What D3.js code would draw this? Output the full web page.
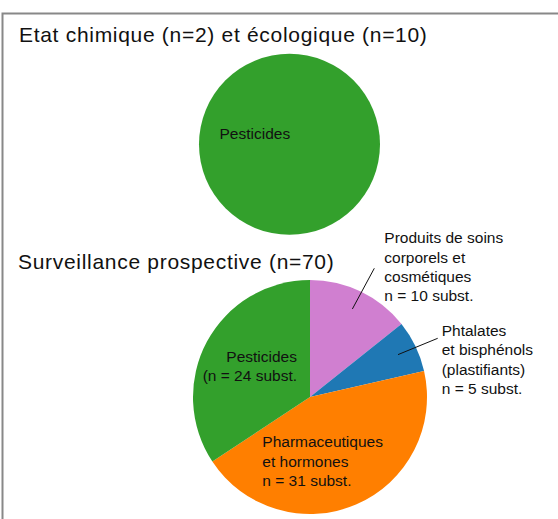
<!DOCTYPE html>
<html>
<head>
<meta charset="utf-8">
<script src="https://cdn.jsdelivr.net/npm/d3@7"></script>
<style>
  body { margin: 0; background: #fff; }
  svg text { font-family: "Liberation Sans", Arial, sans-serif; fill: #111; }
</style>
</head>
<body>
<div id="chart"></div>
<script>
// donnees
const titres = ['Etat chimique (n=2) et écologique (n=10)', 'Surveillance prospective (n=70)'];

const groupesHaut = ['Pesticides'];
const valeursHaut = [12];
const etiquettesHaut = [['Pesticides']];

const groupesBas = ['Produits de soins', 'Phtalates', 'Pharmaceutiques', 'Pesticides'];
const valeursBas = [10, 5, 31, 24];
const etiquettesBas = [
  ['Produits de soins', 'corporels et', 'cosmétiques', 'n = 10 subst.'],
  ['Phtalates', 'et bisphénols', '(plastifiants)', 'n = 5 subst.'],
  ['Pharmaceutiques', 'et hormones', 'n = 31 subst.'],
  ['Pesticides', '(n = 24 subst.']
];

const couleurs = d3.scaleOrdinal()
  .domain(['Produits de soins', 'Phtalates', 'Pharmaceutiques', 'Pesticides'])
  .range(['#d07fd0', '#1f78b4', '#ff7f00', '#33a02c']);

// mise en page
var width = 558, height = 519;
var lh = 19.4;

var svg = d3.select('#chart').append('svg')
  .attr('width', width)
  .attr('height', height);

// cadre (seulement haut et gauche visibles)
svg.append('path')
  .attr('d', 'M2.5,' + height + 'V13.5H' + width)
  .attr('fill', 'none')
  .attr('stroke', '#888')
  .attr('stroke-width', 2);

svg.append('text').attr('x', 19).attr('y', 41.5)
  .style('font-size', '21px').style('letter-spacing', '0.7px')
  .text(titres[0]);
svg.append('text').attr('x', 18).attr('y', 269.3)
  .style('font-size', '21px').style('letter-spacing', '0.7px')
  .text(titres[1]);

var pie = d3.pie().value(d => d.v).sort(null);

function drawPie(cx, cy, r, groupes, valeurs, etiquettes, pos, leaders) {
  var g = svg.append('g').attr('transform', 'translate(' + cx + ',' + cy + ')');
  var data = pie(groupes.map((k, i) => ({ k: k, v: valeurs[i], lab: etiquettes[i] })));
  var arc = d3.arc().innerRadius(0).outerRadius(r);
  var inner = d3.arc().innerRadius(r * 0.835).outerRadius(r * 0.835);

  g.selectAll('path.slice')
    .data(data)
    .enter().append('path')
    .attr('class', 'slice')
    .attr('d', arc)
    .attr('fill', d => couleurs(d.data.k));

  // lignes de rappel
  g.selectAll('line.lead')
    .data(data.filter((d, i) => leaders[i]))
    .enter().append('line')
    .attr('class', 'lead')
    .attr('x1', d => inner.centroid(d)[0])
    .attr('y1', d => inner.centroid(d)[1])
    .attr('x2', d => leaders[data.indexOf(d)][0])
    .attr('y2', d => leaders[data.indexOf(d)][1])
    .attr('stroke', '#111')
    .attr('stroke-width', 1);

  var t = g.selectAll('text.lab')
    .data(data)
    .enter().append('text')
    .attr('class', 'lab')
    .style('font-size', '15.5px')
    .attr('text-anchor', (d, i) => pos[i][2])
    .attr('transform', (d, i) => 'translate(' + pos[i][0] + ',' + pos[i][1] + ')');

  t.selectAll('tspan')
    .data(d => d.data.lab)
    .enter().append('tspan')
    .attr('x', 0)
    .attr('y', (d, i) => i * lh)
    .text(d => d);
}

drawPie(289.5, 144.3, 90.5, groupesHaut, valeursHaut, etiquettesHaut,
  [[-70, -5, 'start']], [null]);

drawPie(310, 397, 117, groupesBas, valeursBas, etiquettesBas,
  [[74.3, -153.7, 'start'], [131.7, -61, 'start'], [-47.7, 50.3, 'start'], [-13, -35.3, 'end']],
  [[64.3, -128.7], [127.7, -58.7], null, null]);
</script>
</body>
</html>
